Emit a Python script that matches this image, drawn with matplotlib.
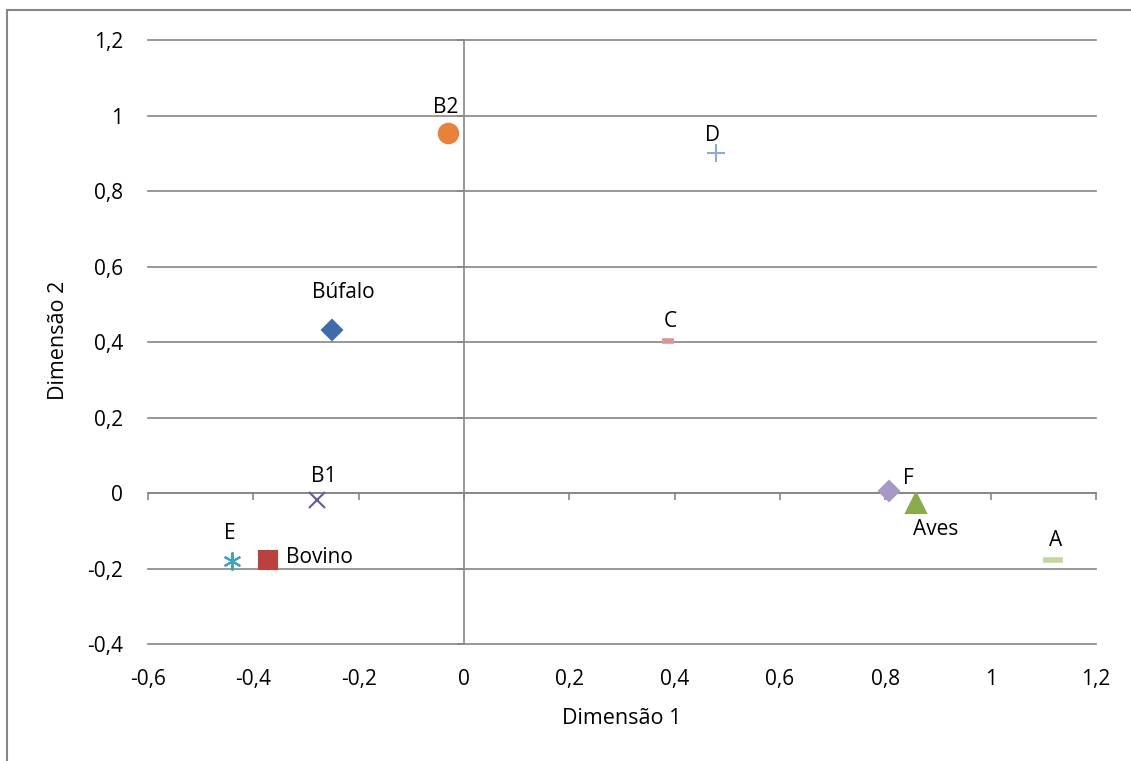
import matplotlib.pyplot as plt
from matplotlib.lines import Line2D

plt.rcParams['font.family'] = ['Open Sans', 'DejaVu Sans']

# dados
nomes = ['Búfalo', 'Bovino', 'Aves', 'B1', 'E', 'B2', 'D', 'C', 'A', 'F']
dim1 = [-0.251, -0.372, 0.858, -0.279, -0.440, -0.030, 0.478, 0.387, 1.118, 0.807]
dim2 = [0.432, -0.177, -0.026, -0.019, -0.180, 0.954, 0.900, 0.403, -0.177, 0.005]

xticks = [-0.6, -0.4, -0.2, 0, 0.2, 0.4, 0.6, 0.8, 1, 1.2]
xtick_labels = ['-0,6', '-0,4', '-0,2', '0', '0,2', '0,4', '0,6', '0,8', '1', '1,2']
yticks = [-0.4, -0.2, 0, 0.2, 0.4, 0.6, 0.8, 1, 1.2]
ytick_labels = ['-0,4', '-0,2', '0', '0,2', '0,4', '0,6', '0,8', '1', '1,2']

# estilo de cada série (marcador, cor, tamanho, offset do rótulo, alinhamento)
estilos = {
    'Búfalo': dict(marker='D', color='#3E6CAA', ms=10, off=(8, 27), ha='center'),
    'Bovino': dict(marker='s', color='#B8403D', ms=13, off=(13, 2), ha='left'),
    'Aves':   dict(marker='^', color='#8BAA4A', ms=14, off=(14, -19), ha='center'),
    'B1':     dict(marker='x', color='#6E5896', ms=12, off=(5, 17), ha='center'),
    'E':      dict(marker=(6, 2, 0), color='#3FA3BF', ms=13, off=(-2, 20), ha='center'),
    'B2':     dict(marker='o', color='#E8823A', ms=14, off=(-2, 18), ha='center'),
    'D':      dict(marker='+', color='#8EA9D8', ms=13, off=(-2, 13), ha='center'),
    'C':      dict(marker='_', color='#D99694', ms=8, off=(2, 14), ha='center'),
    'A':      dict(marker='_', color='#C3D69B', ms=14, off=(2, 14), ha='center'),
    'F':      dict(marker='D', color='#A898C4', ms=10, off=(14, 9), ha='center'),
}

fig = plt.figure(figsize=(11.31, 7.61), dpi=100)
ax = fig.add_axes([0.1309, 0.1537, 0.969 - 0.1309, 0.9474 - 0.1537])

cinza = '#868686'
ax.set_xlim(-0.6, 1.2)
ax.set_ylim(-0.4, 1.2)
ax.set_yticks(yticks)
# linhas de grade horizontais
for yv in yticks:
    ax.axhline(yv, color=cinza, linewidth=1.2, clip_on=False, zorder=1)

for s in ['top', 'right']:
    ax.spines[s].set_visible(False)
ax.spines['bottom'].set_position(('data', 0))
ax.spines['left'].set_position(('data', 0))
ax.spines['bottom'].set_color(cinza)
ax.spines['left'].set_color(cinza)
ax.spines['bottom'].set_linewidth(1.2)
ax.spines['left'].set_linewidth(1.2)
ax.set_xticks(xticks)
ax.tick_params(axis='both', direction='out', length=5, width=1.2, color=cinza,
               labelbottom=False, labelleft=False)

# rótulos dos eixos nas bordas
secx = ax.secondary_xaxis('bottom')
secx.set_xticks(xticks, xtick_labels)
secx.tick_params(length=0, pad=18, labelsize=15)
secx.spines['bottom'].set_visible(False)
secy = ax.secondary_yaxis('left')
secy.set_yticks(yticks, ytick_labels)
secy.tick_params(length=0, pad=18, labelsize=15)
secy.spines['left'].set_visible(False)

for n, x, y in zip(nomes, dim1, dim2):
    e = estilos[n]
    mew = 4 if e['marker'] == '_' else 1.5
    ax.plot(x, y, linestyle='none', marker=e['marker'], markersize=e['ms'],
            color=e['color'], markeredgecolor=e['color'], markeredgewidth=mew,
            clip_on=False, zorder=3)
    ax.annotate(n, (x, y), xytext=e['off'], textcoords='offset points',
                ha=e['ha'], va='center', fontsize=15)

fig.text(622 / 1131, 1 - 719 / 761, 'Dimensão 1', ha='center', va='center', fontsize=15.5)
fig.text(58 / 1131, 1 - 340 / 761, 'Dimensão 2', ha='center', va='center',
         rotation=90, fontsize=15.5)

# moldura do gráfico
fig.add_artist(Line2D([7 / 1131, 1], [1 - 10 / 761, 1 - 10 / 761], color=cinza, linewidth=1.5))
fig.add_artist(Line2D([7 / 1131, 7 / 1131], [0, 1 - 10 / 761], color=cinza, linewidth=1.5))

fig.savefig('out.png', dpi=100)
